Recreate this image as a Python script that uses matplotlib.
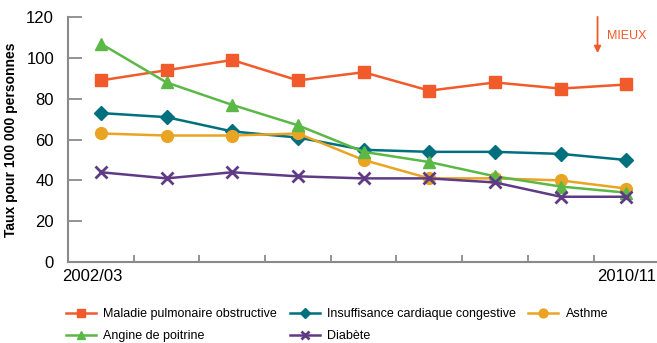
import matplotlib.pyplot as plt
import numpy as np

plt.rcParams['font.family'] = ['Liberation Sans Narrow', 'Liberation Sans', 'DejaVu Sans']

# taux pour 100 000 personnes, 2002/03 a 2010/11
periodes = ['2002/03', '2003/04', '2004/05', '2005/06', '2006/07',
            '2007/08', '2008/09', '2009/10', '2010/11']
mpoc = [89, 94, 99, 89, 93, 84, 88, 85, 87]
icc = [73, 71, 64, 61, 55, 54, 54, 53, 50]
asthme = [63, 62, 62, 63, 50, 41, 41, 40, 36]
angine = [107, 88, 77, 67, 54, 49, 42, 37, 34]
diabete = [44, 41, 44, 42, 41, 41, 39, 32, 32]

x = np.arange(len(periodes)) + 0.5

fig = plt.figure(figsize=(6.57, 3.43), dpi=100)
ax = fig.add_axes([0.1035, 0.236, 0.8965, 0.714])

lw = 1.8
l1, = ax.plot(x, mpoc, color='#F15A2B', lw=lw, marker='s', ms=8,
              label='Maladie pulmonaire obstructive')
l4, = ax.plot(x, angine, color='#5BB847', lw=lw, marker='^', ms=8,
              label='Angine de poitrine')
l2, = ax.plot(x, icc, color='#00707F', lw=lw, marker='D', ms=7,
              label='Insuffisance cardiaque congestive')
l3, = ax.plot(x, asthme, color='#E9A424', lw=lw, marker='o', ms=8.5,
              label='Asthme')
l5, = ax.plot(x, diabete, color='#5F3B86', lw=lw, marker='x', ms=8, mew=2,
              label='Diabète')
# angine et diabete au-dessus de l'asthme
l4.set_zorder(2.5)
l5.set_zorder(2.6)

ax.set_xlim(0, 8.965)
ax.set_ylim(0, 120)
ax.set_yticks(np.arange(0, 121, 20))
ax.set_xticks(np.arange(0, 9))
ax.set_xticklabels([])
ax.tick_params(axis='y', direction='in', length=10, width=1.3, color='#8a8a8a',
               labelsize=12, pad=10)
ax.tick_params(axis='x', direction='in', length=5, width=1.3, color='#8a8a8a')
for s in ['top', 'right']:
    ax.spines[s].set_visible(False)
for s in ['left', 'bottom']:
    ax.spines[s].set_color('#8a8a8a')
    ax.spines[s].set_linewidth(1.5)

ax.text(-0.09, -3.5, periodes[0], ha='left', va='top', fontsize=12)
ax.text(0.999, -3.5, periodes[-1], ha='right', va='top', fontsize=12,
        transform=ax.get_yaxis_transform())

ax.set_ylabel('Taux pour 100 000 personnes', fontsize=10, fontweight='bold',
              labelpad=6)

# fleche "mieux"
ax.annotate('', xy=(8.06, 101), xytext=(8.06, 121.5),
            arrowprops=dict(arrowstyle='-|>', color='#F15A2B', lw=1.3,
                            mutation_scale=10), annotation_clip=False)
ax.text(8.2, 111, 'MIEUX', color='#F15A2B', fontsize=9, va='center')

fig.legend(handles=[l1, l4, l2, l5, l3], ncol=3, frameon=False,
           loc='lower left', bbox_to_anchor=(0.083, -0.03), fontsize=9,
           handlelength=2.4, columnspacing=1.0, handletextpad=0.6,
           labelspacing=0.8, markerscale=0.75)

fig.savefig('out.png', dpi=100)
